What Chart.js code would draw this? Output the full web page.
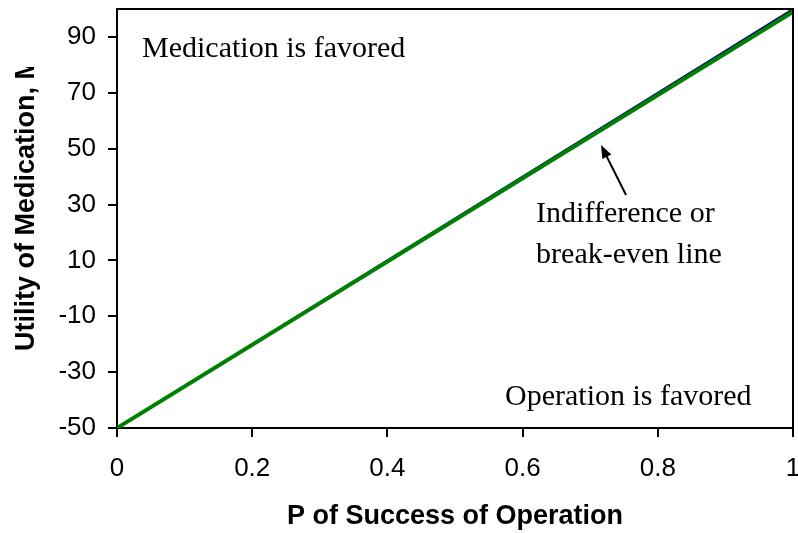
<!DOCTYPE html>
<html>
<head>
<meta charset="utf-8">
<script src="https://cdn.jsdelivr.net/npm/chart.js@4"></script>
<style>
  html, body { margin: 0; padding: 0; background: #fff; }
  #wrap { width: 798px; height: 533px; }
</style>
</head>
<body>
<div id="wrap"><canvas id="chart" width="798" height="533"></canvas></div>
<script>
// ===== DATA =====
const pSuccess = [0, 1];
const breakEven = [-50, 100];      // blue line
const indifference = [-50, 99];    // green line drawn on top
const xTicks = [0, 0.2, 0.4, 0.6, 0.8, 1];
const yTicks = [-50, -30, -10, 10, 30, 50, 70, 90];

const xTitle = 'P of Success of Operation';
const yTitle = 'Utility of Medication, M';

// text notes, placed in data units
const notes = [
  { text: 'Medication is favored', x: 0.037, y: 82.8 },
  { text: 'Operation is favored', x: 0.574, y: -41.8 },
  { text: 'Indifference or', x: 0.62, y: 23.7 },
  { text: 'break-even line', x: 0.62, y: 9.1 }
];
const arrowFrom = { x: 0.753, y: 33.4 };
const arrowTo = { x: 0.716, y: 51.3 };

const sans = "'Liberation Sans', Arial, sans-serif";
const serif = "'Liberation Serif', 'Times New Roman', serif";

// ===== DRAWING EXTRAS =====
const extras = {
  id: 'extras',
  afterDraw(chart) {
    const ctx = chart.ctx;
    const a = chart.chartArea;
    const xs = chart.scales.x, ys = chart.scales.y;

    // frame on top and right
    ctx.save();
    ctx.strokeStyle = '#000';
    ctx.lineWidth = 2;
    ctx.beginPath();
    ctx.moveTo(a.left, a.top);
    ctx.lineTo(a.right, a.top);
    ctx.lineTo(a.right, a.bottom);
    ctx.stroke();

    // notes
    ctx.fillStyle = '#000';
    ctx.font = '30px ' + serif;
    ctx.textAlign = 'left';
    ctx.textBaseline = 'alphabetic';
    notes.forEach(n => ctx.fillText(n.text, xs.getPixelForValue(n.x), ys.getPixelForValue(n.y)));

    // arrow
    const x0 = xs.getPixelForValue(arrowFrom.x), y0 = ys.getPixelForValue(arrowFrom.y);
    const x1 = xs.getPixelForValue(arrowTo.x), y1 = ys.getPixelForValue(arrowTo.y);
    const ang = Math.atan2(y1 - y0, x1 - x0);
    const hl = 13, hw = 5;
    ctx.lineWidth = 2;
    ctx.beginPath();
    ctx.moveTo(x0, y0);
    ctx.lineTo(x1 - Math.cos(ang) * hl * 0.8, y1 - Math.sin(ang) * hl * 0.8);
    ctx.stroke();
    ctx.beginPath();
    ctx.moveTo(x1, y1);
    ctx.lineTo(x1 - Math.cos(ang) * hl - Math.sin(ang) * hw, y1 - Math.sin(ang) * hl + Math.cos(ang) * hw);
    ctx.lineTo(x1 - Math.cos(ang) * hl + Math.sin(ang) * hw, y1 - Math.sin(ang) * hl - Math.cos(ang) * hw);
    ctx.closePath();
    ctx.fill();

    // x axis title
    ctx.font = 'bold 27px ' + sans;
    ctx.textAlign = 'center';
    ctx.fillText(xTitle, (a.left + a.right) / 2, 524);

    // y axis title, clipped at the top like the original
    ctx.save();
    ctx.beginPath();
    ctx.rect(0, 67, 80, 533);
    ctx.clip();
    ctx.translate(34, 351);
    ctx.rotate(-Math.PI / 2);
    ctx.textAlign = 'left';
    ctx.fillText(yTitle, 0, 0);
    ctx.restore();

    ctx.restore();
  }
};

const fixAxis = (w, h) => (scale) => {
  if (w) scale.width = w;
  if (h) scale.height = h;
  scale.paddingLeft = 0; scale.paddingRight = 0;
  scale.paddingTop = 0; scale.paddingBottom = 0;
};

// ===== CHART =====
new Chart(document.getElementById('chart'), {
  type: 'line',
  data: {
    labels: pSuccess,
    datasets: [
      {
        label: 'Indifference',
        data: pSuccess.map((p, i) => ({ x: p, y: indifference[i] })),
        borderColor: '#008000',
        borderWidth: 4,
        pointRadius: 0,
        fill: false,
        tension: 0
      },
      {
        label: 'Break-even',
        data: pSuccess.map((p, i) => ({ x: p, y: breakEven[i] })),
        borderColor: '#000080',
        borderWidth: 2,
        pointRadius: 0,
        fill: false,
        tension: 0
      }
    ]
  },
  options: {
    responsive: false,
    animation: false,
    devicePixelRatio: 1,
    layout: { padding: { top: 9, right: 5, left: 0, bottom: 0 } },
    plugins: { legend: { display: false }, tooltip: { enabled: false } },
    scales: {
      x: {
        type: 'linear',
        min: 0, max: 1,
        afterBuildTicks: (s) => { s.ticks = xTicks.map(v => ({ value: v })); },
        afterFit: fixAxis(0, 105),
        ticks: {
          color: '#000',
          font: { family: sans, size: 26 },
          padding: 16,
          maxRotation: 0,
          autoSkip: false,
          callback: (v) => String(v)
        },
        grid: { drawOnChartArea: false, drawTicks: true, tickLength: 9, color: '#000', lineWidth: 2 },
        border: { display: true, color: '#000', width: 2 }
      },
      y: {
        type: 'linear',
        min: -50, max: 100,
        afterBuildTicks: (s) => { s.ticks = yTicks.map(v => ({ value: v })); },
        afterFit: fixAxis(117, 0),
        ticks: {
          color: '#000',
          font: { family: sans, size: 26 },
          padding: 12,
          autoSkip: false,
          callback: (v) => String(v)
        },
        grid: { drawOnChartArea: false, drawTicks: true, tickLength: 9, color: '#000', lineWidth: 2 },
        border: { display: true, color: '#000', width: 2 }
      }
    }
  },
  plugins: [extras]
});
</script>
</body>
</html>
